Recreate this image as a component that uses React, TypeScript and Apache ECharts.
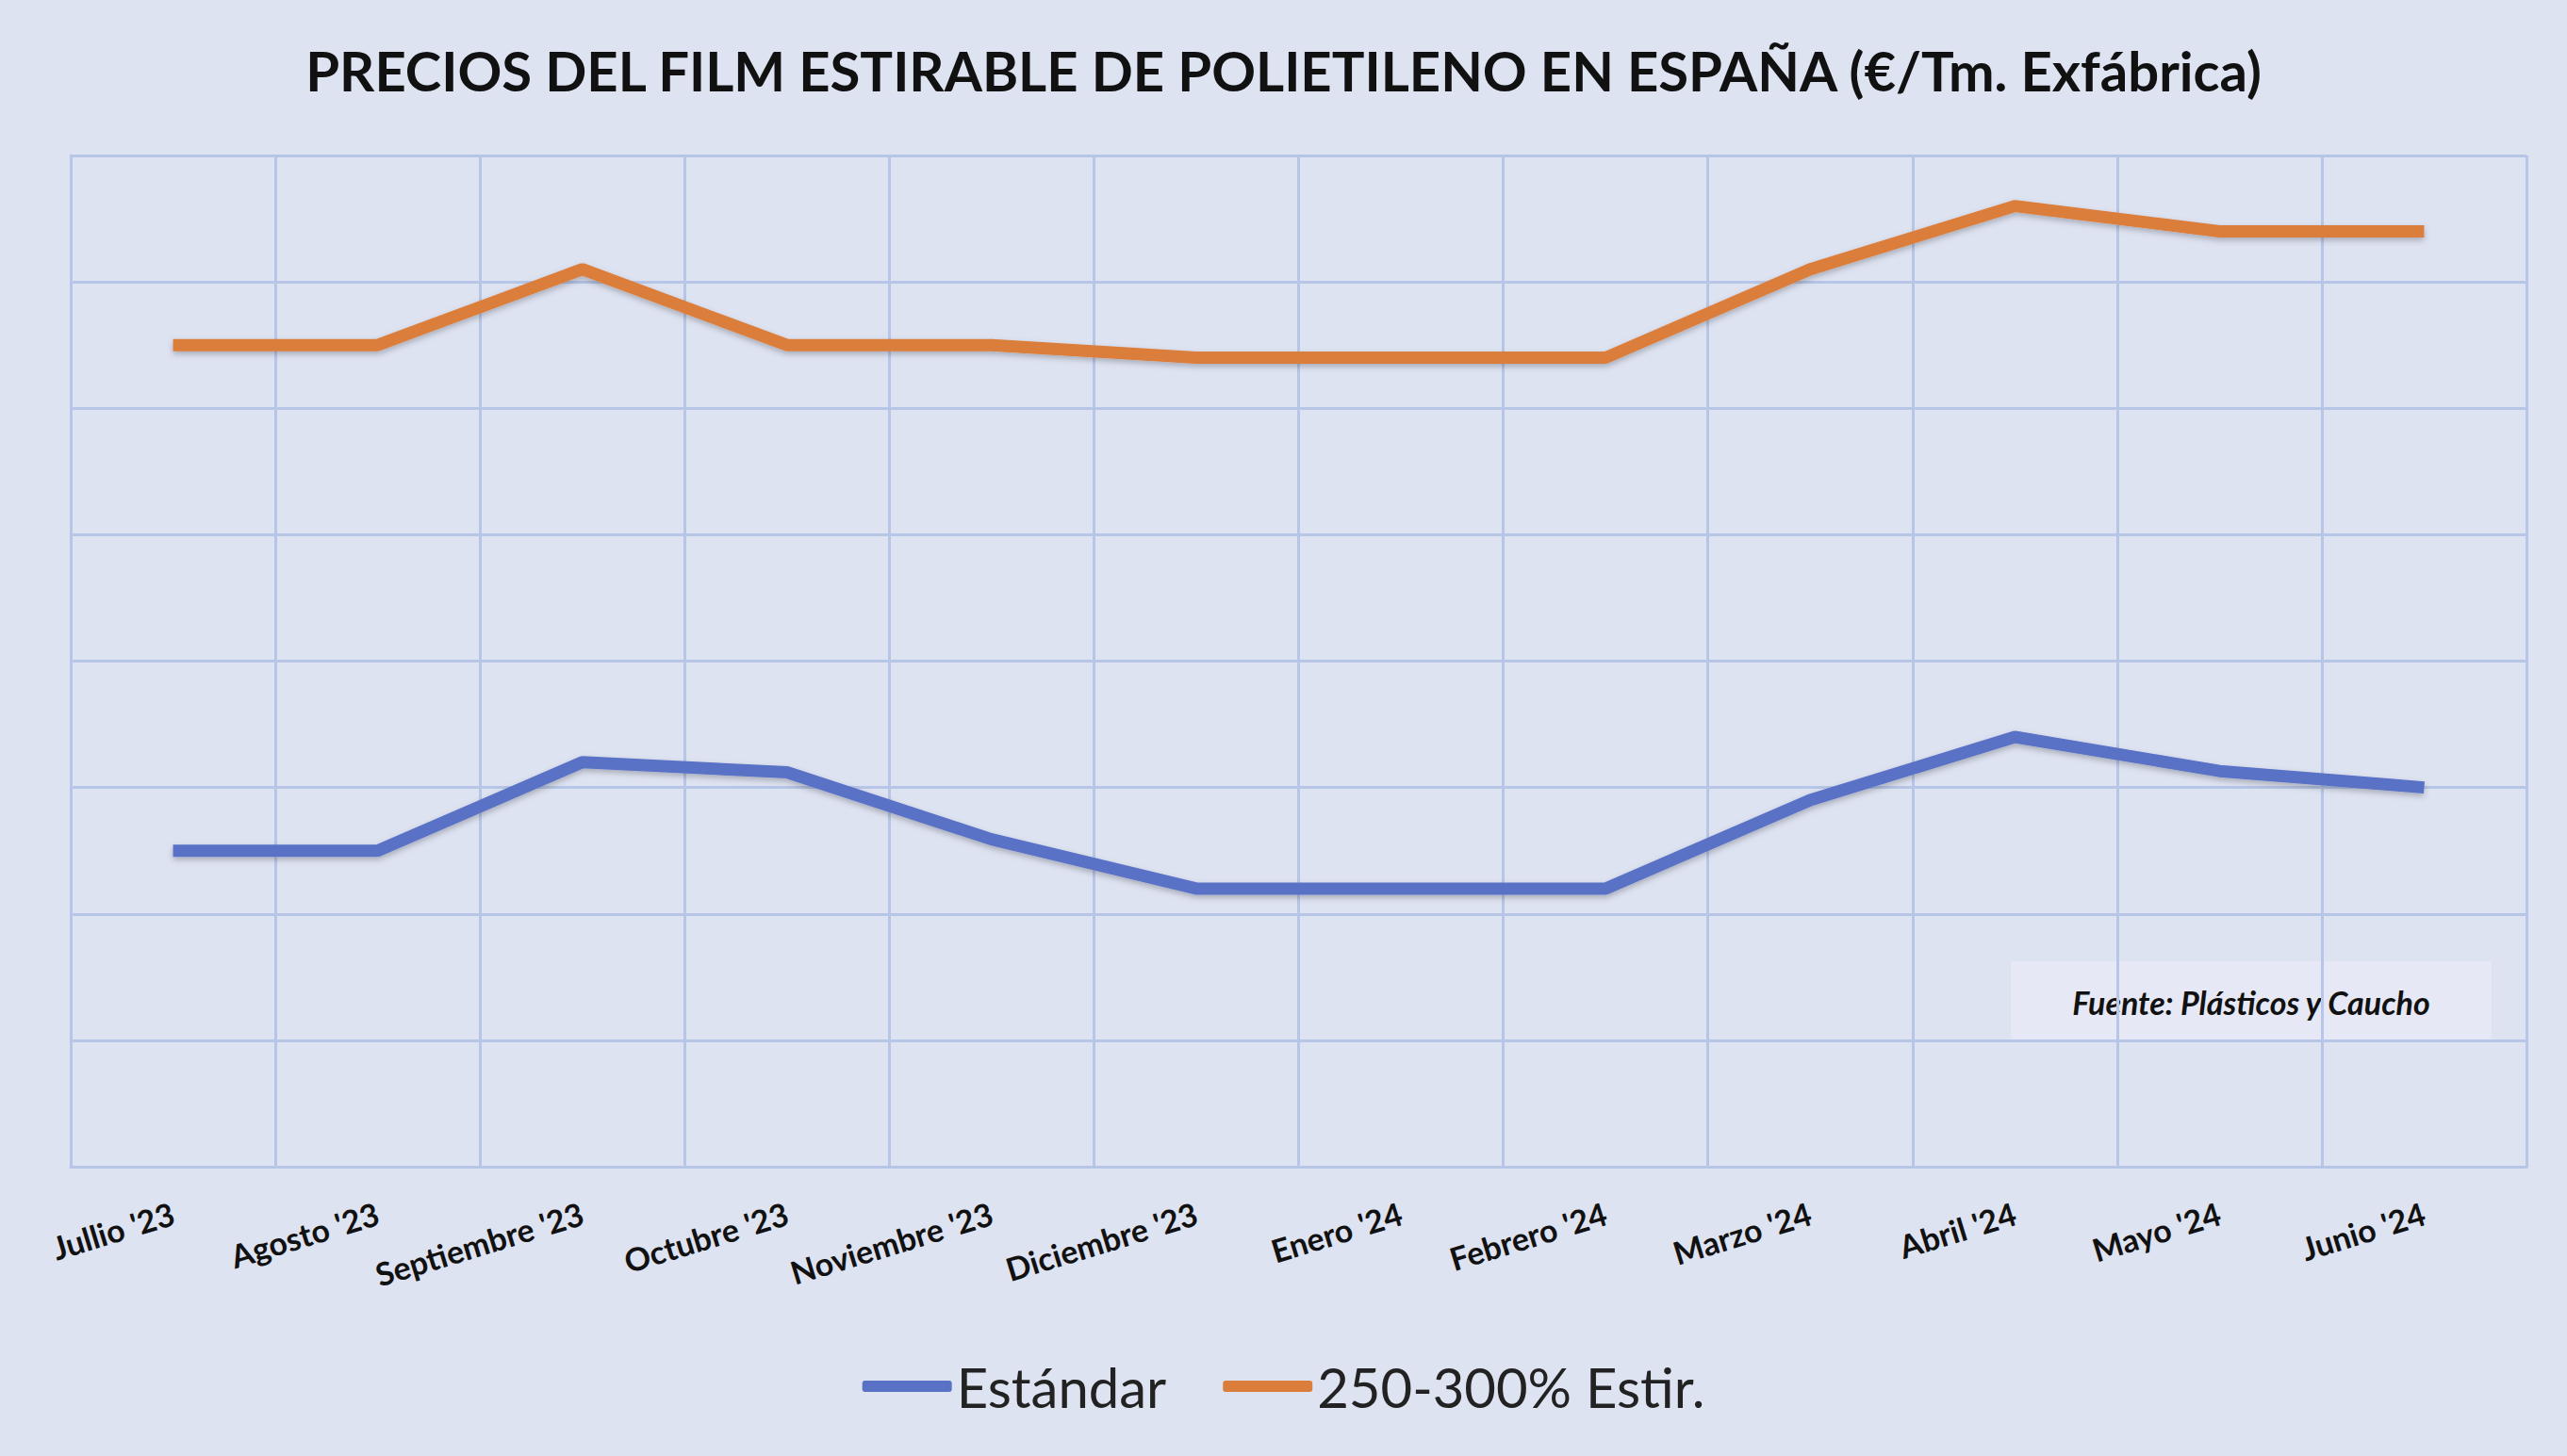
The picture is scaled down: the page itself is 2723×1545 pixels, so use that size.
import { useEffect, useRef } from 'react'
import * as echarts from 'echarts'

const months = [
  "Jullio '23", "Agosto '23", "Septiembre '23", "Octubre '23", "Noviembre '23", "Diciembre '23",
  "Enero '24", "Febrero '24", "Marzo '24", "Abril '24", "Mayo '24", "Junio '24",
]
const estandar = [1250, 1250, 1320, 1312, 1259, 1220, 1220, 1220, 1290, 1340, 1313, 1300]
const estirable = [1650, 1650, 1710, 1650, 1650, 1640, 1640, 1640, 1710, 1760, 1740, 1740]

const gridColor = '#b7c6e6'

export default function App() {
  const chartRef = useRef<HTMLDivElement>(null)

  useEffect(() => {
    document.body.style.margin = '0'
    if (!chartRef.current) return
    const chart = echarts.init(chartRef.current, undefined, { renderer: 'svg' })

    const lineSeries = (name: string, data: number[], color: string) => ({
      name,
      type: 'line',
      data,
      symbol: 'none',
      lineStyle: {
        color,
        width: 13,
        shadowColor: 'rgba(0,0,0,0.25)',
        shadowBlur: 6,
        shadowOffsetY: 3,
      },
      itemStyle: { color },
    })

    chart.setOption({
      animation: false,
      backgroundColor: '#dee3f2',
      textStyle: { fontFamily: 'Lato' },
      title: {
        text: 'PRECIOS DEL FILM ESTIRABLE DE POLIETILENO EN ESPAÑA (€/Tm. Exfábrica)',
        left: 'center',
        top: 40,
        textStyle: { fontSize: 58, fontWeight: 'bold', color: '#111', fontFamily: 'Lato' },
      },
      legend: {
        bottom: 40,
        left: 'center',
        itemWidth: 95,
        itemHeight: 12,
        itemGap: 60,
        icon: 'roundRect',
        textStyle: { fontSize: 58, color: '#222', fontFamily: 'Lato' },
        data: ['Estándar', '250-300% Estir.'],
      },
      grid: { left: 75, right: 43, top: 165, bottom: 307 },
      xAxis: {
        type: 'category',
        data: months,
        boundaryGap: true,
        axisTick: { show: false },
        axisLine: { lineStyle: { color: gridColor, width: 3 } },
        splitLine: { show: true, lineStyle: { color: gridColor, width: 3 } },
        axisLabel: {
          interval: 0,
          rotate: 17,
          margin: 48,
          fontSize: 34,
          fontWeight: 'bold',
          color: '#111',
          fontFamily: 'Lato',
        },
      },
      yAxis: {
        type: 'value',
        min: 1000,
        max: 1800,
        interval: 100,
        axisLabel: { show: false },
        axisTick: { show: false },
        axisLine: { show: true, lineStyle: { color: gridColor, width: 3 } },
        splitLine: { lineStyle: { color: gridColor, width: 3 } },
      },
      graphic: [
        {
          type: 'rect',
          shape: { x: 2133, y: 1020, width: 510, height: 86 },
          style: { fill: '#e6e9f5' },
        },
        {
          type: 'text',
          x: 2388,
          y: 1063,
          style: {
            text: 'Fuente: Plásticos y Caucho',
            font: 'italic bold 34px Lato',
            fill: '#111',
            align: 'center',
            verticalAlign: 'middle',
          },
        },
      ],
      series: [
        lineSeries('Estándar', estandar, '#5a72c6'),
        lineSeries('250-300% Estir.', estirable, '#dc7e3b'),
      ],
    })

    return () => chart.dispose()
  }, [])

  return <div ref={chartRef} style={{ width: 2723, height: 1545 }} />
}
